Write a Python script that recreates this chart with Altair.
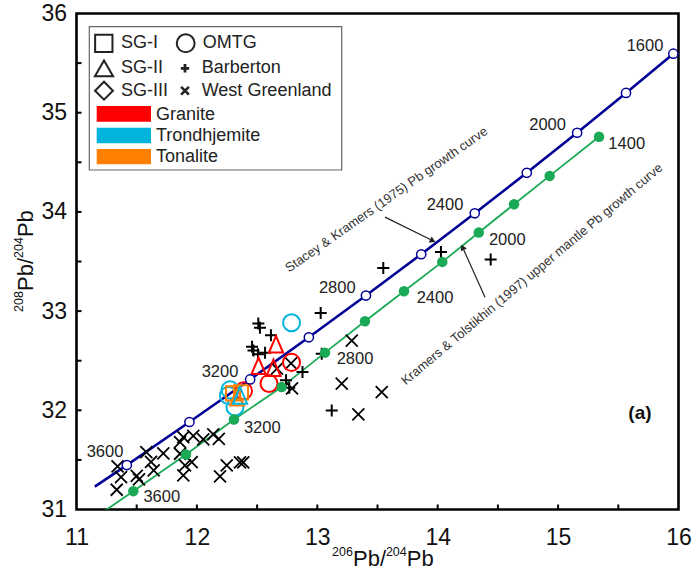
import altair as alt
import pandas as pd

FONT = "Liberation Sans"
W, H = 602, 496          # plot area in px
PAD_L, PAD_T = 76.5, 13.5

BLUE = "#000096"
GREEN = "#1aaa55"
RED = "#ff0000"
CYAN = "#00b4dc"
ORANGE = "#ff8000"
INK = "#222222"

# ---------------------------------------------------------------- curves
# Stacey & Kramers (1975): start of second stage (3700 Ma) then 200 Ma steps
sk_age = [3700, 3600, 3400, 3200, 3000, 2800, 2600, 2400, 2200, 2000, 1800, 1600]
sk_206 = [11.152, 11.418, 11.938, 12.442, 12.930, 13.404, 13.863, 14.308, 14.740, 15.158, 15.564, 15.957]
sk_208 = [31.230, 31.448, 31.882, 32.311, 32.736, 33.157, 33.573, 33.986, 34.394, 34.798, 35.199, 35.595]

# Kramers & Tolstikhin (1997) upper mantle curve, 200 Ma steps
kt_age = [3600, 3400, 3200, 3000, 2800, 2600, 2400, 2200, 2000, 1800, 1600, 1400]
kt_206 = [11.472, 11.909, 12.308, 12.704, 13.064, 13.396, 13.720, 14.038, 14.341, 14.634, 14.930, 15.340]
kt_208 = [31.185, 31.555, 31.908, 32.234, 32.581, 32.897, 33.200, 33.496, 33.792, 34.077, 34.363, 34.757]
kt_tail = (11.0, 30.79)   # older part of the curve, runs out through the bottom axis

# age labels along the curves
sk_lab = ["1600", "2000", "2400", "2800", "3200", "3600"]
sk_lab_206 = [15.722, 14.913, 14.061, 13.166, 12.192, 11.237]
sk_lab_208 = [35.672, 34.875, 34.068, 33.237, 32.386, 31.578]
kt_lab = ["1400", "2000", "2400", "2800", "3200", "3600"]
kt_lab_206 = [15.570, 14.578, 13.978, 13.313, 12.543, 11.708]
kt_lab_208 = [34.683, 33.714, 33.136, 32.521, 31.820, 31.124]

# ---------------------------------------------------------------- samples
wg_206 = [11.341, 11.370, 11.334, 11.500, 11.519, 11.580, 11.619, 11.641, 11.721, 11.860,
          11.887, 11.860, 11.901, 11.887, 11.957, 11.970, 12.053, 12.136, 12.182, 12.248,
          12.192, 12.358, 12.385, 13.286, 13.203, 13.535, 13.341, 12.790, 12.782, 12.665]
wg_208 = [31.434, 31.326, 31.199, 31.338, 31.303, 31.578, 31.481, 31.394, 31.565, 31.679,
          31.730, 31.562, 31.444, 31.343, 31.477, 31.742, 31.706, 31.757, 31.713, 31.444,
          31.333, 31.474, 31.474, 32.702, 32.268, 32.184, 31.959, 32.221, 32.473, 32.420]

bb_206 = [12.510, 12.524, 13.028, 12.615, 12.458, 12.470, 12.507, 12.566, 12.877, 12.740,
          12.767, 13.120, 13.037, 13.548, 14.027, 14.440]
bb_208 = [32.874, 32.831, 32.981, 32.756, 32.640, 32.604, 32.564, 32.579, 32.386, 32.302,
          32.228, 31.999, 32.571, 33.435, 33.596, 33.520]

omtg_206 = [12.786, 12.786, 12.599, 12.387, 12.275, 12.316, 12.262]
omtg_208 = [32.882, 32.483, 32.271, 32.196, 32.206, 32.034, 32.150]
omtg_rock = ["Trondhjemite", "Granite", "Granite", "Granite", "Trondhjemite", "Trondhjemite", "Trondhjemite"]

sg1_206 = [12.300, 12.366]
sg1_208 = [32.170, 32.180]
sg1_rock = ["Tonalite", "Tonalite"]

sg2_206 = [12.657, 12.512, 12.636, 12.333, 12.358]
sg2_208 = [32.665, 32.448, 32.428, 32.130, 32.150]
sg2_rock = ["Granite", "Granite", "Granite", "Tonalite", "Trondhjemite"]

x_ticks = [11, 12, 13, 14, 15, 16]
y_ticks = [31, 32, 33, 34, 35, 36]
x_minor = [11.5, 12, 12.5, 13, 13.5, 14, 14.5, 15, 15.5]
y_minor = [31.5, 32, 32.5, 33, 33.5, 34, 34.5, 35, 35.5]

# ---------------------------------------------------------------- helpers
ROCK_COLOR = {"Granite": RED, "Trondhjemite": CYAN, "Tonalite": ORANGE}
PLUS = "M-1,0L1,0M0,-1L0,1"
CROSS = "M-1,-1L1,1M-1,1L1,-1"
TRI = "M0,-1L-0.86,1L0.86,1Z"

XD, YD = [11, 16], [31, 36]
xs = alt.Scale(domain=XD, nice=False, zero=False)
ys = alt.Scale(domain=YD, nice=False, zero=False)

AX_X = alt.Axis(
    values=x_ticks, format="d", title=None, grid=False, domain=False, labelFlush=False,
    ticks=False, tickSize=0, labelPadding=17, labelFontSize=23, labelFont=FONT,
    labelColor="#111")
AX_Y = alt.Axis(
    values=y_ticks, format="d", title=None, grid=False, domain=False, labelFlush=False,
    ticks=False, tickSize=0, labelPadding=10, labelFontSize=23, labelFont=FONT,
    labelColor="#111")


def X(f="x"):
    return alt.X(f"{f}:Q", scale=xs, axis=AX_X)


def Y(f="y"):
    return alt.Y(f"{f}:Q", scale=ys, axis=AX_Y)


def to_data(cx, cy):
    """page px -> data units (key box and axis titles sit at fixed page spots)"""
    return (XD[0] + (cx - PAD_L) / W * (XD[1] - XD[0]),
            YD[1] - (cy - PAD_T) / H * (YD[1] - YD[0]))


sk = pd.DataFrame({"age": sk_age, "x": sk_206, "y": sk_208})
kt = pd.DataFrame({"age": kt_age, "x": kt_206, "y": kt_208})
kt_line = pd.concat([pd.DataFrame({"age": [3800], "x": [kt_tail[0]], "y": [kt_tail[1]]}), kt])

sk_line = alt.Chart(sk).mark_line(color=BLUE, strokeWidth=2.6, clip=True).encode(x=X(), y=Y())
kt_ln = alt.Chart(kt_line).mark_line(color=GREEN, strokeWidth=1.8, clip=True).encode(x=X(), y=Y())
kt_pts = alt.Chart(kt).mark_point(filled=True, color=GREEN, size=110, opacity=1, shape="circle").encode(
    x=X(), y=Y())
sk_pts = alt.Chart(sk[sk.age <= 3600]).mark_point(
    shape="circle", filled=True, fill="white", stroke=BLUE, strokeWidth=1.5, size=85, opacity=1).encode(
    x=X(), y=Y())

sk_labels = alt.Chart(pd.DataFrame({"t": sk_lab, "x": sk_lab_206, "y": sk_lab_208})).mark_text(
    font=FONT, fontSize=16.5, color=INK).encode(x=X(), y=Y(), text="t:N")
kt_labels = alt.Chart(pd.DataFrame({"t": kt_lab, "x": kt_lab_206, "y": kt_lab_208})).mark_text(
    font=FONT, fontSize=16.5, color=INK).encode(x=X(), y=Y(), text="t:N")

# ---------------------------------------------------------------- sample layers
rows = []
for x, y in zip(wg_206, wg_208):
    rows.append((x, y, CROSS, "#000000", 144, 1.8))
for x, y in zip(bb_206, bb_208):
    rows.append((x, y, PLUS, "#000000", 144, 2.0))
for x, y, r in zip(omtg_206, omtg_208, omtg_rock):
    rows.append((x, y, "circle", ROCK_COLOR[r], 290, 2.0))
for x, y, r in zip(sg1_206, sg1_208, sg1_rock):
    rows.append((x, y, "square", ROCK_COLOR[r], 200, 2.0))
for x, y, r in zip(sg2_206, sg2_208, sg2_rock):
    rows.append((x, y, TRI, ROCK_COLOR[r], 270, 2.0))
samples = pd.DataFrame(rows, columns=["x", "y", "shape", "color", "size", "sw"])

sample_layer = alt.Chart(samples).mark_point(filled=False, opacity=1).encode(
    x=X(), y=Y(),
    shape=alt.Shape("shape:N", scale=None),
    color=alt.Color("color:N", scale=None),
    size=alt.Size("size:Q", scale=None),
    strokeWidth=alt.StrokeWidth("sw:Q", scale=None),
)

# ---------------------------------------------------------------- annotations
note1 = alt.Chart(pd.DataFrame({
    "t": ["Stacey & Kramers (1975) Pb growth curve"], "x": [13.575], "y": [34.123]})).mark_text(
    font=FONT, fontSize=13, color="#333", angle=325).encode(x=X(), y=Y(), text="t:N")
note2 = alt.Chart(pd.DataFrame({
    "t": ["Kramers & Tolstikhin (1997) upper mantle Pb growth curve"], "x": [14.783], "y": [33.371]})).mark_text(
    font=FONT, fontSize=13, color="#333", angle=320).encode(x=X(), y=Y(), text="t:N")

arrows = pd.DataFrame({
    "x": [13.562, 14.393], "y": [33.947, 33.139],
    "x2": [13.952, 14.210], "y2": [33.714, 33.634],
    "ang": [116, 336]})
arrow_shaft = alt.Chart(arrows).mark_rule(color="#222", strokeWidth=1.2).encode(
    x=X(), y=Y(), x2="x2:Q", y2="y2:Q")
arrow_head = alt.Chart(arrows).mark_point(shape="triangle", filled=True, color="#222", size=45, opacity=1).encode(
    x=X("x2"), y=Y("y2"), angle=alt.Angle("ang:Q", scale=None))

panel = alt.Chart(pd.DataFrame({"t": ["(a)"], "x": [15.680], "y": [31.969]})).mark_text(
    font=FONT, fontSize=19, fontWeight="bold", color="#111").encode(x=X(), y=Y(), text="t:N")

# inward ticks
xtick = alt.Chart(pd.DataFrame({"v": x_minor})).mark_rule(color="black", strokeWidth=2).encode(
    x=X("v"), y=alt.value(H), y2=alt.value(H - 5))
ytick = alt.Chart(pd.DataFrame({"v": y_minor})).mark_rule(color="black", strokeWidth=2).encode(
    y=Y("v"), x=alt.value(0), x2=alt.value(5))

# ---------------------------------------------------------------- axis titles with superscript masses
BIG, SUP = 22, 12.5
# x title: pieces laid out left to right along one baseline
xt_big = [(*to_data(353.0, 566), "Pb/"), (*to_data(406.8, 566), "Pb")]
xt_sup = [(*to_data(332.0, 556), "206"), (*to_data(385.9, 556), "204")]
# y title: same pieces, rotated, laid out bottom to top
yt_big = [(*to_data(33.0, 291.0), "Pb/"), (*to_data(33.0, 237.1), "Pb")]
yt_sup = [(*to_data(23.0, 311.9), "208"), (*to_data(23.0, 258.0), "204")]


def title_layer(items, size, angle=0):
    df = pd.DataFrame(items, columns=["x", "y", "t"])
    kw = dict(font=FONT, fontSize=size, align="left", baseline="alphabetic", color="#111")
    if angle:
        kw["angle"] = angle
    return alt.Chart(df).mark_text(**kw).encode(x=X(), y=Y(), text="t:N")


titles = [title_layer(xt_big, BIG), title_layer(xt_sup, SUP),
          title_layer(yt_big, BIG, 270), title_layer(yt_sup, SUP, 270)]

# ---------------------------------------------------------------- boxed key
bx1, by1 = to_data(89.3, 26.7)
bx2, by2 = to_data(341.7, 170)
legend_box = alt.Chart(pd.DataFrame({"x": [bx1], "x2": [bx2], "y": [by1], "y2": [by2]})).mark_rect(
    fill="white", stroke="#666", strokeWidth=1.2).encode(x=X(), x2="x2:Q", y=Y(), y2="y2:Q")

sym_rows = [
    (*to_data(103.8, 43.3), "square", 300, 2.0),
    (*to_data(185.7, 43.3), "circle", 320, 2.0),
    (*to_data(104.0, 68.3), "triangle-up", 330, 2.0),
    (*to_data(185.0, 68.3), PLUS, 70, 2.8),
    (*to_data(104.0, 90.7), "diamond", 320, 2.0),
    (*to_data(185.0, 90.7), CROSS, 60, 2.6),
]
leg_sym = pd.DataFrame(sym_rows, columns=["x", "y", "shape", "size", "sw"])
legend_symbols = alt.Chart(leg_sym).mark_point(filled=False, color=INK, opacity=1).encode(
    x=X(), y=Y(),
    shape=alt.Shape("shape:N", scale=None), size=alt.Size("size:Q", scale=None),
    strokeWidth=alt.StrokeWidth("sw:Q", scale=None))

txt_rows = [
    (*to_data(121.0, 43.3), "SG-I"), (*to_data(202.7, 43.3), "OMTG"),
    (*to_data(121.0, 68.3), "SG-II"), (*to_data(201.7, 68.3), "Barberton"),
    (*to_data(121.0, 90.7), "SG-III"), (*to_data(201.7, 90.7), "West Greenland"),
    (*to_data(156.0, 115.0), "Granite"), (*to_data(156.0, 135.7), "Trondhjemite"),
    (*to_data(156.0, 156.7), "Tonalite"),
]
leg_txt = pd.DataFrame(txt_rows, columns=["x", "y", "t"])
legend_text = alt.Chart(leg_txt).mark_text(
    font=FONT, fontSize=18, align="left", baseline="middle", color=INK).encode(
    x=X(), y=Y(), text="t:N")

sw_rows = []
for (top, bot), col in zip([(106.0, 121.7), (127.7, 143.3), (149.0, 164.3)], [RED, CYAN, ORANGE]):
    x1, y1 = to_data(96.7, top)
    x2, y2 = to_data(151.0, bot)
    sw_rows.append((x1, x2, y1, y2, col))
leg_sw = pd.DataFrame(sw_rows, columns=["x", "x2", "y", "y2", "c"])
legend_swatch = alt.Chart(leg_sw).mark_rect().encode(
    x=X(), x2="x2:Q", y=Y(), y2="y2:Q", color=alt.Color("c:N", scale=None))

chart = alt.layer(
    sk_line, kt_ln, sample_layer, kt_pts, sk_pts,
    sk_labels, kt_labels, note1, note2, arrow_shaft, arrow_head, panel,
    xtick, ytick, *titles,
    legend_box, legend_symbols, legend_text, legend_swatch,
).properties(
    width=W, height=H,
    autosize=alt.AutoSizeParams(type="none"),
    padding={"left": PAD_L, "top": PAD_T, "right": 695 - PAD_L - W, "bottom": 573 - PAD_T - H},
    background="white",
).configure_view(
    stroke="black", strokeWidth=2.6,
)

chart.save("out.html", embed_options={"renderer": "svg", "actions": False})
